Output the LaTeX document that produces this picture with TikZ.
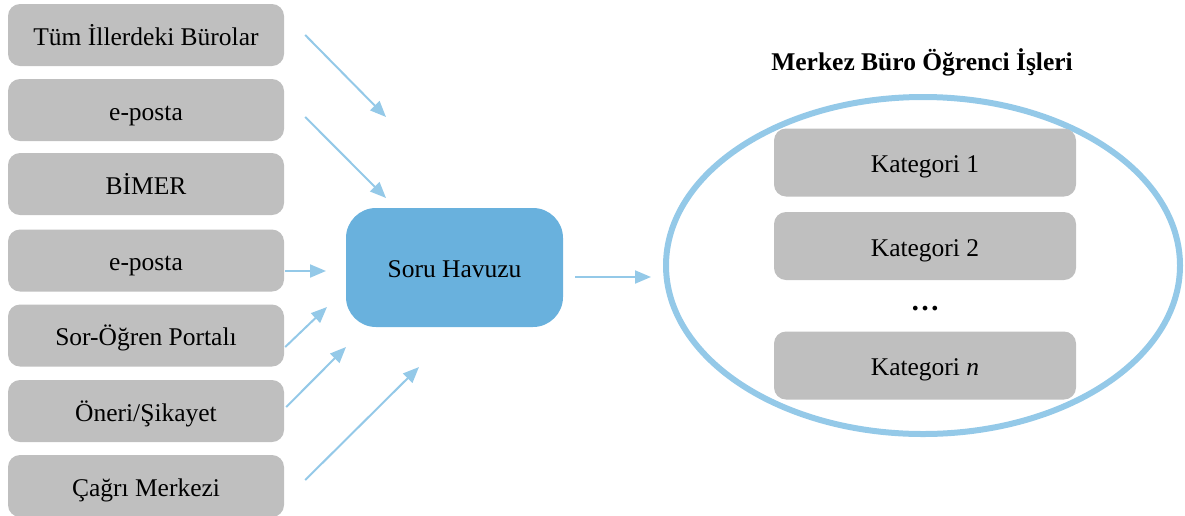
\documentclass[tikz,border=0pt]{standalone}
\usepackage{fontspec}
\setmainfont{Liberation Serif}
\usepackage{xcolor}
\usepackage{tikz}
\usetikzlibrary{positioning, calc, arrows.meta}

\definecolor{boxgray}{HTML}{BFBFBF}
\definecolor{poolblue}{HTML}{69B1DD}
\definecolor{linkblue}{HTML}{94C9E8}

\tikzset{
  textline/.style={text height=22pt, text depth=2pt},
  srcbox/.style={textline, fill=boxgray, rounded corners=12pt, minimum width=276pt, minimum height=62pt, inner sep=0pt},
  catbox/.style={textline, fill=boxgray, rounded corners=12pt, minimum width=302pt, minimum height=68pt, inner sep=0pt},
  poolbox/.style={textline, fill=poolblue, rounded corners=30pt, minimum width=217pt, minimum height=119pt, inner sep=0pt},
  link/.style={draw=linkblue, line width=2pt, -{Triangle[length=16pt,width=13pt]}}
}

\begin{document}
\begin{tikzpicture}[x=1pt, y=-1pt, font=\fontsize{25.5pt}{30pt}\selectfont]
            \useasboundingbox (0,0) rectangle (1185,515);

            % Sources
            \node[srcbox] (b1) at (146,35) {Tüm İllerdeki Bürolar};
            \node[srcbox] (b2) at (146,110) {e-posta};
            \node[srcbox] (b3) at (146,184) {BİMER};
            \node[srcbox] (b4) at (146,260.5) {e-posta};
            \node[srcbox] (b5) at (146,335.5) {Sor-Öğren Portalı};
            \node[srcbox] (b6) at (146,411) {Öneri/Şikayet};
            \node[srcbox] (b7) at (146,486) {Çağrı Merkezi};

            % Pool
            \node[poolbox] (pool) at (454.5,267.5) {Soru Havuzu};

            % Office
            \draw[draw=linkblue, line width=6pt] (923,265.5) ellipse [x radius=257pt, y radius=168.5pt];
            \node[font=\fontsize{25.5pt}{30pt}\selectfont\bfseries] (title) at (922,62) {Merkez Büro Öğrenci İşleri};
            \node[catbox] (k1) at (925,162.5) {Kategori 1};
            \node[catbox] (k2) at (925,246) {Kategori 2};
            \node[anchor=base, font=\fontsize{29pt}{30pt}\selectfont\bfseries] (dots) at (925,310) {…};
            \node[catbox] (kn) at (925,365.5) {Kategori \textit{n}};

            % Arrow tips
            \coordinate (t1) at (386,117);
            \coordinate (t2) at (386,198);
            \coordinate (t3) at (326,271);
            \coordinate (t4) at (327,307);
            \coordinate (t5) at (346,347);
            \coordinate (t6) at (419,367);
            \coordinate (t7) at (651,277);

            % Arrows
            \draw[link] ([xshift=21pt]b1.east) -- (t1);
            \draw[link] ([xshift=21pt,yshift=-7pt]b2.east) -- (t2);
            \draw[link] ([xshift=1pt,yshift=-10.5pt]b4.east) -- (t3);
            \draw[link] ([xshift=1pt,yshift=-11.5pt]b5.east) -- (t4);
            \draw[link] ([xshift=2pt,yshift=4pt]b6.east) -- (t5);
            \draw[link] ([xshift=21pt,yshift=6pt]b7.east) -- (t6);
            \draw[link] ([xshift=12pt,yshift=-9.5pt]pool.east) -- (t7);
        \end{tikzpicture}
\end{document}
